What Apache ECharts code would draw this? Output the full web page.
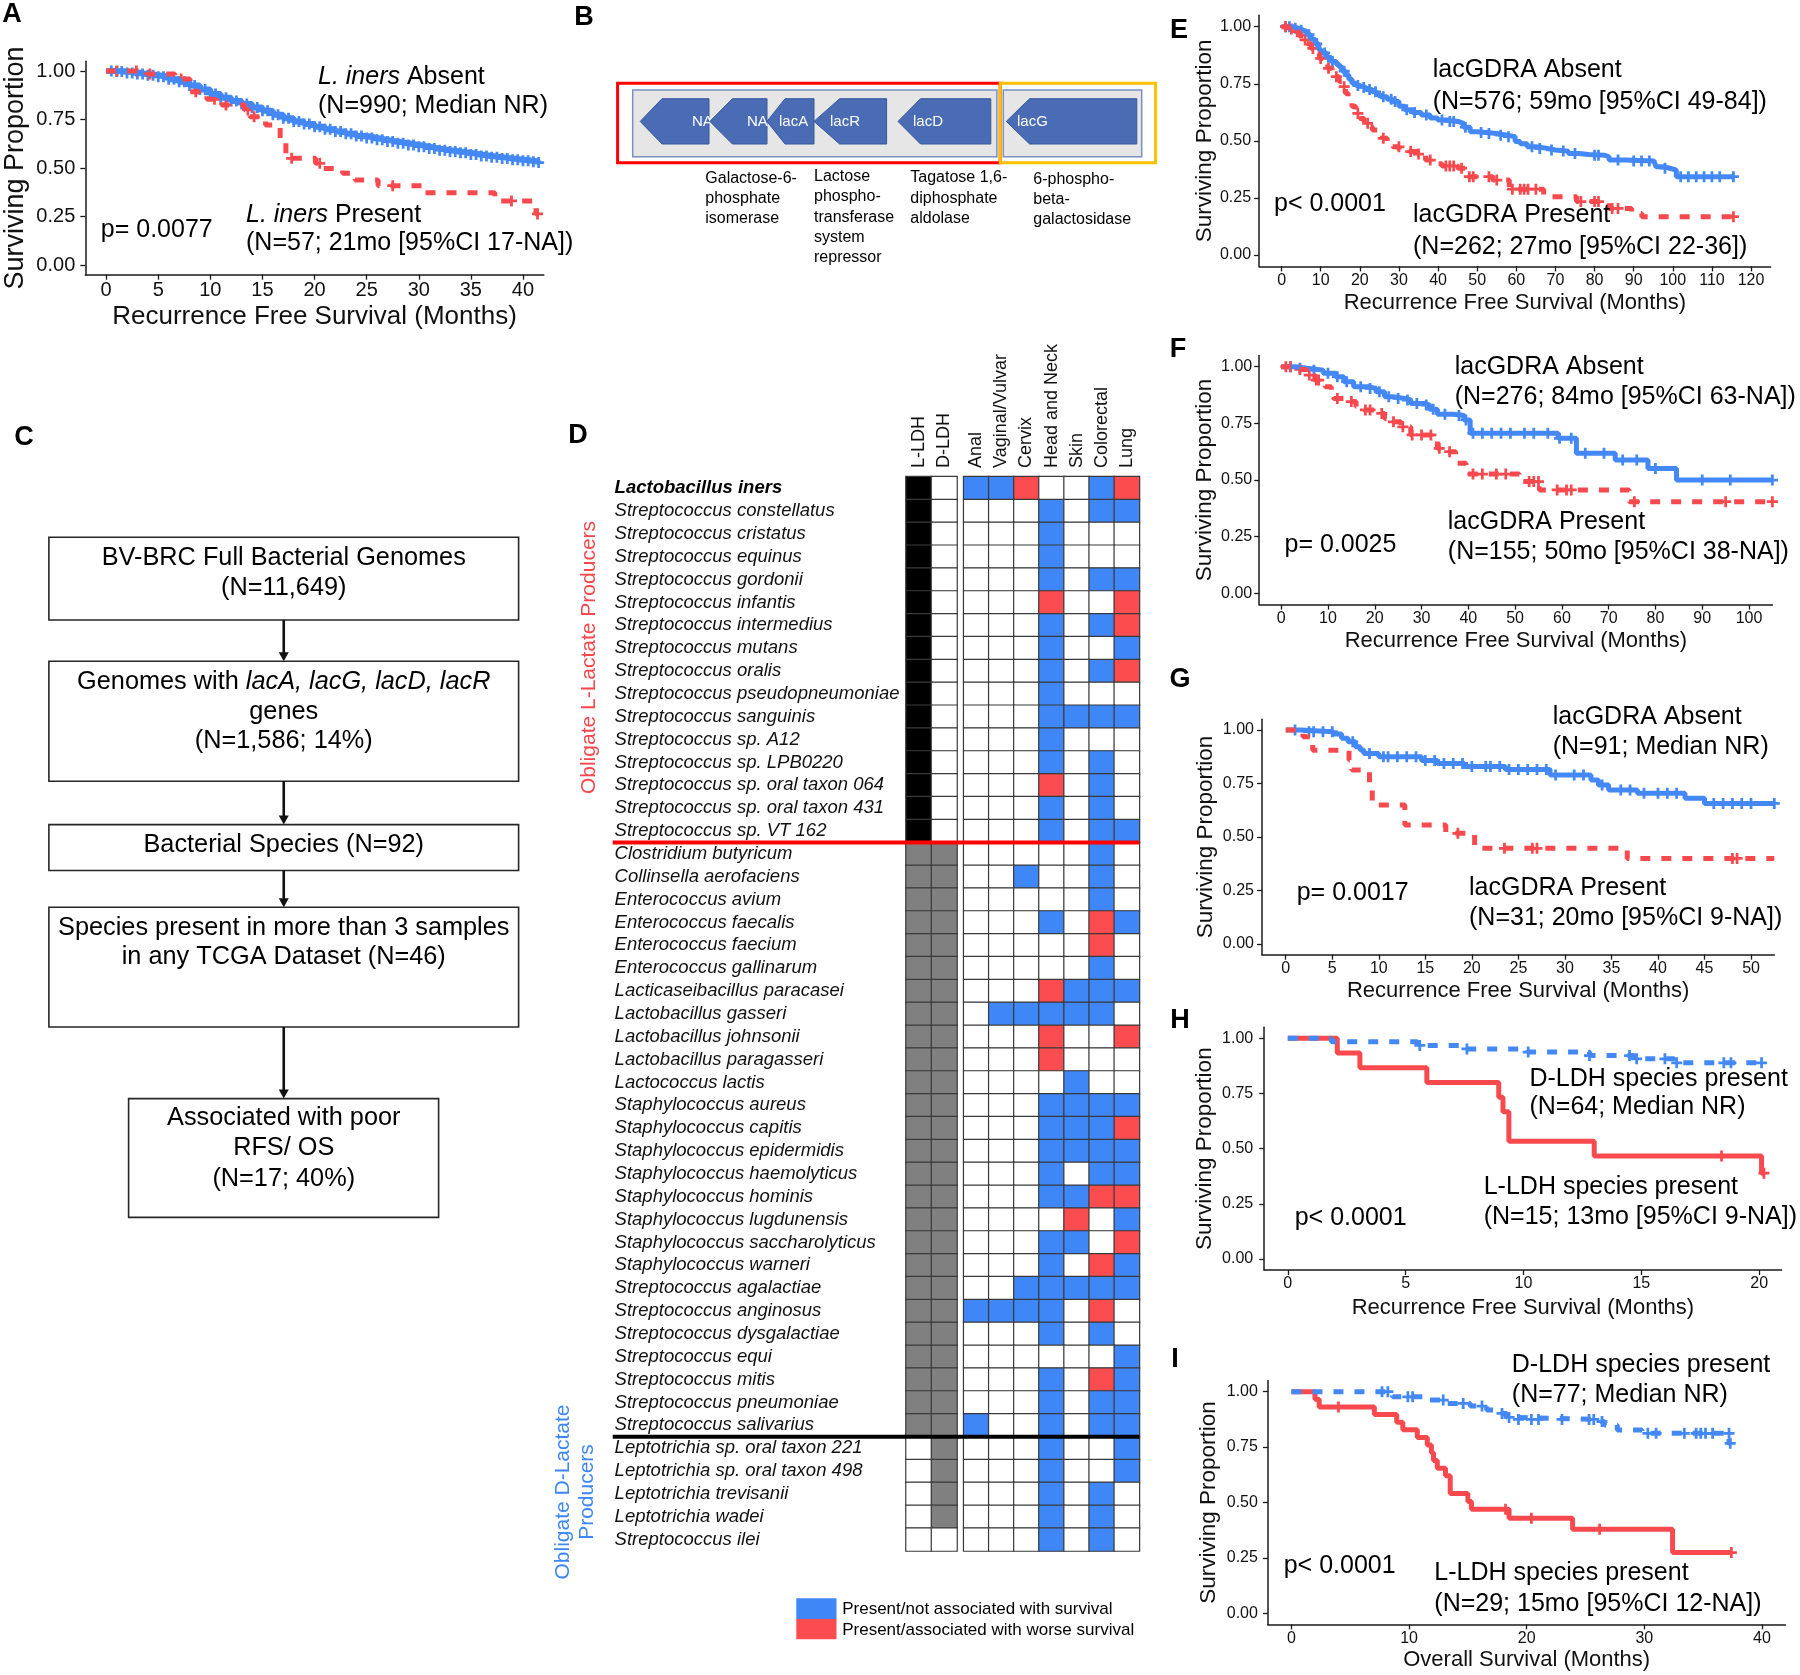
<!DOCTYPE html>
<html>
<head>
<meta charset="utf-8">
<script src="https://cdn.jsdelivr.net/npm/echarts/dist/echarts.min.js"></script>
<style>
  html, body { margin: 0; padding: 0; background: #fff; }
  #fig { width: 1800px; height: 1675px; }
</style>
</head>
<body>
<div id="fig"></div>
<script>
// ---- data ----
const survTicks = [0, 0.25, 0.5, 0.75, 1];
const aTicks = [0, 5, 10, 15, 20, 25, 30, 35, 40];
const eTicks = [0, 10, 20, 30, 40, 50, 60, 70, 80, 90, 100, 110, 120];
const fTicks = [0, 10, 20, 30, 40, 50, 60, 70, 80, 90, 100];
const gTicks = [0, 5, 10, 15, 20, 25, 30, 35, 40, 45, 50];
const hTicks = [0, 5, 10, 15, 20];
const iTicks = [0, 10, 20, 30, 40];

// A: L. iners absent / present
const aAbsent = [[0,1],[1,0.998],[2,0.99],[3,0.985],[4,0.978],[5,0.97],[6,0.958],[7,0.944],[8,0.925],[9,0.905],[10,0.882],[11,0.862],[12,0.846],[13,0.83],[14,0.812],[15,0.795],[16,0.775],[17,0.757],[18,0.74],[19,0.727],[20,0.713],[21,0.7],[22,0.688],[23,0.677],[24,0.665],[25,0.655],[26,0.645],[27,0.636],[28,0.628],[29,0.619],[30,0.61],[31,0.6],[32,0.592],[33,0.585],[34,0.578],[35,0.57],[36,0.562],[37,0.556],[38,0.549],[39,0.543],[40,0.537],[41,0.532],[41.5,0.528]];
const aAbsentCens = [[0.5,1],[1,0.998],[1.5,0.998],[2,0.99],[2.5,0.99],[3,0.985],[3.5,0.985],[4,0.978],[4.5,0.978],[5,0.97],[5.5,0.97],[6,0.958],[6.5,0.958],[7,0.944],[7.5,0.944],[8,0.925],[8.5,0.925],[9,0.905],[9.5,0.905],[10,0.882],[10.5,0.882],[11,0.862],[11.5,0.862],[12,0.846],[12.5,0.846],[13,0.83],[13.5,0.83],[14,0.812],[14.5,0.812],[15,0.795],[15.5,0.795],[16,0.775],[16.5,0.775],[17,0.757],[17.5,0.757],[18,0.74],[18.5,0.74],[19,0.727],[19.5,0.727],[20,0.713],[20.5,0.713],[21,0.7],[21.5,0.7],[22,0.688],[22.5,0.688],[23,0.677],[23.5,0.677],[24,0.665],[24.5,0.665],[25,0.655],[25.5,0.655],[26,0.645],[26.5,0.645],[27,0.636],[27.5,0.636],[28,0.628],[28.5,0.628],[29,0.619],[29.5,0.619],[30,0.61],[30.5,0.61],[31,0.6],[31.5,0.6],[32,0.592],[32.5,0.592],[33,0.585],[33.5,0.585],[34,0.578],[34.5,0.578],[35,0.57],[35.5,0.57],[36,0.562],[36.5,0.562],[37,0.556],[37.5,0.556],[38,0.549],[38.5,0.549],[39,0.543],[39.5,0.543],[40,0.537],[40.5,0.537],[41,0.532],[41.5,0.528]];
const aPresent = [[0,1],[3.9,0.985],[6.6,0.959],[8.05,0.893],[9.67,0.854],[11.1,0.825],[13.3,0.799],[13.8,0.764],[15.3,0.722],[16.7,0.644],[17.25,0.572],[17.8,0.55],[20.1,0.524],[20.7,0.498],[22.7,0.473],[23.9,0.438],[26.1,0.409],[30.6,0.373],[37.3,0.33],[41.25,0.263],[41.5,0.263]];
const aPresentCens = [[1.05,1],[2.9,1],[4.2,0.985],[7.2,0.959],[8.6,0.893],[10.4,0.854],[11.5,0.825],[13.6,0.799],[14.2,0.764],[17.8,0.55],[20.5,0.524],[27.5,0.409],[38.9,0.33],[41.4,0.263]];

// E: lacGDRA, RFS
const eAbsent = [[0,1],[3,0.993],[4.4,0.985],[5.5,0.978],[6.5,0.965],[7.5,0.945],[8.6,0.925],[9.5,0.9],[10.1,0.885],[11.5,0.865],[12.7,0.848],[14,0.835],[14.8,0.822],[15.6,0.805],[16.4,0.788],[17.2,0.77],[18,0.752],[19,0.742],[20,0.734],[21.5,0.725],[23.2,0.715],[24.3,0.703],[25.3,0.693],[27,0.682],[28.4,0.672],[30,0.652],[31.5,0.636],[33.5,0.624],[35.7,0.613],[38,0.6],[39.9,0.591],[42,0.585],[45.1,0.577],[46.5,0.56],[48.2,0.54],[50,0.537],[52.4,0.532],[55,0.525],[57.6,0.518],[59.7,0.497],[61,0.487],[62.8,0.474],[65,0.467],[68,0.46],[70,0.455],[73.3,0.445],[76,0.44],[78.5,0.437],[82.6,0.43],[83.7,0.416],[88,0.412],[95.2,0.409],[95.7,0.387],[97.5,0.38],[99.3,0.372],[100.9,0.343],[115.5,0.343]];
const eAbsentCens = [[1,1],[2,1],[3.5,0.993],[5,0.985],[7,0.965],[9,0.925],[11,0.885],[13,0.848],[16,0.805],[19.5,0.742],[21,0.734],[22.5,0.725],[24,0.715],[26,0.693],[28,0.682],[29,0.672],[32,0.636],[34,0.624],[37,0.613],[41,0.591],[43,0.585],[44,0.585],[47,0.56],[51,0.537],[53,0.532],[56,0.525],[58,0.518],[64,0.474],[66,0.467],[69,0.46],[72,0.455],[75,0.445],[80,0.437],[81,0.437],[86,0.416],[90,0.412],[92,0.412],[94,0.412],[98,0.38],[102,0.343],[104,0.343],[106,0.343],[108,0.343],[110,0.343],[112,0.343],[115.5,0.343]];
const ePresent = [[0,1],[2,0.99],[3.4,0.978],[4.5,0.96],[5.5,0.942],[6.5,0.925],[7.6,0.905],[8.7,0.882],[9.7,0.861],[10.8,0.84],[11.8,0.818],[12.9,0.8],[13.9,0.781],[14.7,0.76],[15.5,0.737],[16.3,0.708],[17,0.679],[18,0.65],[19,0.62],[20,0.598],[21.1,0.577],[22.2,0.562],[23.2,0.547],[24.5,0.528],[25.8,0.511],[27,0.49],[28.4,0.474],[30,0.462],[31.5,0.453],[34.7,0.442],[36.8,0.416],[39,0.4],[41,0.39],[45.1,0.38],[47.2,0.343],[54,0.328],[58.2,0.288],[67,0.255],[75.4,0.234],[83.7,0.204],[89.5,0.182],[92.1,0.168],[115.5,0.168]];
const ePresentCens = [[1,1],[2.5,0.99],[4,0.978],[6,0.942],[8,0.905],[10,0.861],[12,0.818],[14,0.781],[16,0.737],[19.5,0.62],[22,0.577],[26,0.511],[30,0.474],[33,0.453],[35,0.442],[38,0.416],[42,0.39],[43,0.39],[44,0.39],[46,0.38],[48,0.343],[49,0.343],[53,0.343],[55,0.328],[59,0.288],[61,0.288],[62,0.288],[63,0.288],[65,0.288],[76.5,0.234],[80,0.234],[81,0.234],[84.5,0.204],[86,0.204],[115.5,0.168]];

// F
const fAbsent = [[0,1],[3,0.993],[5.5,0.985],[9,0.971],[11.6,0.956],[13.4,0.934],[15.5,0.912],[18.6,0.904],[20.3,0.89],[22.1,0.868],[23.8,0.86],[26.4,0.853],[27.7,0.838],[30.4,0.831],[31.7,0.812],[33.4,0.79],[36.9,0.785],[39.1,0.765],[40.4,0.706],[59.2,0.684],[63.1,0.618],[71.4,0.588],[78.4,0.551],[84.5,0.5],[105,0.5]];
const fAbsentCens = [[2,1],[4,0.993],[7,0.985],[10,0.971],[12,0.956],[14,0.934],[17,0.912],[19,0.904],[21,0.89],[23,0.868],[25,0.86],[27,0.853],[29,0.838],[31,0.831],[32.5,0.812],[35,0.79],[38,0.785],[39.5,0.765],[41,0.706],[43,0.706],[45,0.706],[47,0.706],[49,0.706],[52,0.706],[54,0.706],[57,0.706],[59.5,0.684],[62,0.684],[65,0.618],[69,0.618],[73,0.588],[76,0.588],[80,0.551],[90,0.5],[96,0.5],[105,0.5]];
const fPresent = [[0,1],[2.9,0.988],[5.5,0.963],[7.2,0.941],[9.4,0.912],[10.7,0.882],[11.2,0.86],[14.2,0.846],[16,0.824],[17.7,0.809],[20.8,0.794],[22.1,0.772],[23.4,0.757],[25.6,0.735],[27.7,0.699],[32.1,0.676],[33.4,0.64],[35.2,0.625],[37.3,0.574],[39.5,0.526],[50.9,0.493],[55.2,0.456],[74.4,0.404],[105,0.404]];
const fPresentCens = [[1,1],[2,1],[4,0.988],[6,0.963],[7.5,0.941],[8,0.941],[12,0.86],[15,0.846],[18,0.809],[19,0.809],[21.5,0.794],[24,0.757],[26,0.735],[28,0.699],[30,0.699],[32,0.699],[33.8,0.64],[36,0.625],[41,0.526],[43,0.526],[46,0.526],[48,0.526],[53,0.493],[54,0.493],[55,0.493],[59,0.456],[61,0.456],[62,0.456],[75.5,0.404],[95,0.404],[105,0.404]];

// G
const gAbsent = [[0,1],[1.6,0.992],[5.1,0.981],[6,0.961],[6.7,0.945],[7.5,0.922],[8,0.907],[8.4,0.89],[10,0.875],[14.6,0.857],[16.3,0.844],[19.2,0.829],[23.6,0.816],[28.4,0.79],[32.8,0.766],[33.6,0.743],[34.7,0.72],[37.8,0.704],[42.9,0.681],[45,0.657],[52.5,0.657]];
const gAbsentCens = [[1,1],[2.5,0.992],[3,0.992],[4,0.992],[5,0.992],[7.2,0.945],[9,0.89],[10.5,0.875],[11,0.875],[12,0.875],[13,0.875],[14,0.875],[15,0.857],[16,0.857],[17,0.844],[18,0.844],[19,0.844],[20,0.829],[21.5,0.829],[22,0.829],[23,0.829],[24,0.816],[25,0.816],[26,0.816],[27,0.816],[28,0.816],[29,0.79],[31,0.79],[32,0.79],[34,0.743],[36,0.72],[37,0.72],[38.5,0.704],[40,0.704],[41,0.704],[42,0.704],[46,0.657],[47,0.657],[48,0.657],[49,0.657],[50,0.657],[52.5,0.657]];
const gPresent = [[0,1],[1.85,0.968],[2.9,0.905],[6.8,0.86],[7.1,0.813],[9,0.74],[9.3,0.65],[12.8,0.556],[17.2,0.517],[20.3,0.447],[36.7,0.4],[52.5,0.4]];
const gPresentCens = [[18.5,0.517],[23.5,0.447],[26.5,0.447],[27,0.447],[48,0.4],[48.5,0.4]];

// H: LDH species, RFS
const hL = [[0,1],[2.1,0.933],[3.06,0.867],[5.9,0.8],[8.95,0.733],[9.13,0.667],[9.38,0.533],[13,0.467],[20.1,0.389],[20.2,0.389]];
const hLCens = [[18.4,0.467],[20.2,0.389]];
const hD = [[0,1],[1.85,0.984],[5.5,0.968],[7.4,0.952],[10.2,0.938],[12.8,0.922],[14.7,0.907],[16.4,0.889],[20.2,0.889]];
const hDCens = [[5.6,0.968],[7.6,0.952],[10.2,0.938],[12.8,0.922],[14.5,0.922],[14.8,0.907],[16,0.907],[16.5,0.889],[18.5,0.889],[18.8,0.889],[20.1,0.889]];

// I: LDH species, OS
const iL = [[0,1],[2,0.966],[2.36,0.931],[7.05,0.897],[8.95,0.862],[9.47,0.828],[10.7,0.793],[11.55,0.759],[11.9,0.724],[12.08,0.69],[12.4,0.655],[13.1,0.621],[13.5,0.541],[15,0.504],[15.3,0.469],[18.5,0.429],[23.9,0.379],[32.4,0.274],[37.4,0.274]];
const iLCens = [[4,0.931],[18.2,0.469],[20.4,0.429],[26.2,0.379],[37.4,0.274]];
const iD = [[0,1],[8.6,0.977],[11.4,0.962],[13.1,0.947],[15.2,0.935],[16.6,0.917],[17.6,0.902],[18.3,0.884],[19,0.875],[26.3,0.865],[26.6,0.85],[27.7,0.827],[29.8,0.812],[37.2,0.767],[37.3,0.767]];
const iDCens = [[7.7,1],[8.2,1],[9.9,0.977],[10.3,0.977],[12.9,0.962],[14.6,0.947],[16.2,0.935],[17.9,0.902],[18.5,0.884],[19.3,0.875],[20.4,0.875],[21,0.875],[23,0.875],[25.3,0.875],[25.7,0.875],[26.4,0.865],[30.3,0.812],[31,0.812],[33.4,0.812],[34.4,0.812],[34.8,0.812],[35.2,0.812],[35.8,0.812],[37.2,0.812],[37.3,0.767]];

// D: species heatmap
const species = ['Lactobacillus iners','Streptococcus constellatus','Streptococcus cristatus','Streptococcus equinus','Streptococcus gordonii','Streptococcus infantis','Streptococcus intermedius','Streptococcus mutans','Streptococcus oralis','Streptococcus pseudopneumoniae','Streptococcus sanguinis','Streptococcus sp. A12','Streptococcus sp. LPB0220','Streptococcus sp. oral taxon 064','Streptococcus sp. oral taxon 431','Streptococcus sp. VT 162',
  'Clostridium butyricum','Collinsella aerofaciens','Enterococcus avium','Enterococcus faecalis','Enterococcus faecium','Enterococcus gallinarum','Lacticaseibacillus paracasei','Lactobacillus gasseri','Lactobacillus johnsonii','Lactobacillus paragasseri','Lactococcus lactis','Staphylococcus aureus','Staphylococcus capitis','Staphylococcus epidermidis','Staphylococcus haemolyticus','Staphylococcus hominis','Staphylococcus lugdunensis','Staphylococcus saccharolyticus','Staphylococcus warneri','Streptococcus agalactiae','Streptococcus anginosus','Streptococcus dysgalactiae','Streptococcus equi','Streptococcus mitis','Streptococcus pneumoniae','Streptococcus salivarius',
  'Leptotrichia sp. oral taxon 221','Leptotrichia sp. oral taxon 498','Leptotrichia trevisanii','Leptotrichia wadei','Streptococcus ilei'];
const ldhCols = ['L-LDH', 'D-LDH'];
const tissueCols = ['Anal', 'Vaginal/Vulvar', 'Cervix', 'Head and Neck', 'Skin', 'Colorectal', 'Lung'];
// L = L-LDH only, B = both, D = D-LDH only, N = none
const ldhType = 'LLLLLLLLLLLLLLLLBBBBBBBBBBBBBBBBBBBBBBBBBBDDDDN'.split('');
// . absent, b present/not associated, r present/associated with worse survival
const tissueStatus = ['bbr..br','...b.bb','...b...','...b...','...b.bb','...r..r','...b.br','...b..b','...b.br','...b...','...bbbb','...b...','...b.b.','...r.b.','...b.b.','...b.bb',
  '.....b.','..b..b.','.....b.','...b.rb','.....r.','.....b.','...rbbb','.bbbbb.','...r..r','...r...','....b..','...bbbb','...bbbr','...bbbb','...b.bb','...bbrr','....r.b','...bb.r','...b.rb','..bbbbb','bbbb.r.','...b.b.','......b','...b.rb','...b.bb','b..b.bb',
  '...b..b','...b..b','...b.b.','...b.b.','...b.b.'];

// ---- chart ----
const FONT = '"Liberation Sans", Arial, Helvetica, sans-serif';
const BLUE = '#4388f5';
const RED = '#f84a4e';
const PLUS = 'path://M-1.5,-6H1.5V-1.5H6V1.5H1.5V6H-1.5V1.5H-6V-1.5H-1.5Z';

const chart = echarts.init(document.getElementById('fig'));

// km panels: grid box [left, top, width, height], x range, ticks, label sizes
const panels = [
  {box: [85.3, 61.3, 458.5, 213.4], xr: [-2, 42], ticks: aTicks, tick: 20, title: 26, yGap: 56, xGap: 29, yMargin: 10, xName: 'Recurrence Free Survival (Months)'},
  {box: [1259.1, 15.3, 511.5, 251.1], xr: [-5.75, 125], ticks: eTicks, tick: 16, title: 22, yGap: 43, xGap: 26, yMargin: 8, xName: 'Recurrence Free Survival (Months)'},
  {box: [1259.2, 355.4, 513.2, 249.2], xr: [-4.7, 105], ticks: fTicks, tick: 16, title: 22, yGap: 43, xGap: 25, yMargin: 7, xName: 'Recurrence Free Survival (Months)'},
  {box: [1262, 719.3, 512.3, 235.4], xr: [-2.55, 52.5], ticks: gTicks, tick: 16, title: 22, yGap: 45, xGap: 25, yMargin: 8, xName: 'Recurrence Free Survival (Months)'},
  {box: [1264.2, 1027.3, 517.4, 242.7], xr: [-1, 20.95], ticks: hTicks, tick: 16, title: 22, yGap: 48, xGap: 27, yMargin: 11, xName: 'Recurrence Free Survival (Months)'},
  {box: [1267.9, 1380.6, 517.6, 243.8], xr: [-2, 42], ticks: iTicks, tick: 16, title: 22, yGap: 48, xGap: 25, yMargin: 10, xName: 'Overall Survival (Months)'}
];

const axisLine = {show: true, onZero: false, lineStyle: {color: '#1a1a1a', width: 1.5}};
const grids = [], xAxes = [], yAxes = [], series = [];

panels.forEach((p, i) => {
  grids.push({left: p.box[0], top: p.box[1], width: p.box[2], height: p.box[3], containLabel: false, outerBoundsMode: 'none'});
  xAxes.push({
    gridIndex: i, type: 'value', min: p.xr[0], max: p.xr[1],
    axisLine, splitLine: {show: false},
    axisTick: {show: true, length: 5, customValues: p.ticks, lineStyle: {color: '#1a1a1a', width: 1.3}},
    axisLabel: {customValues: p.ticks, fontSize: p.tick, color: '#111', fontFamily: FONT, margin: 6},
    name: p.xName, nameLocation: 'middle', nameGap: p.xGap,
    nameTextStyle: {fontSize: p.title, color: '#111', fontFamily: FONT}
  });
  yAxes.push({
    gridIndex: i, type: 'value', min: -0.05, max: 1.05,
    axisLine, splitLine: {show: false},
    axisTick: {show: true, length: 5, customValues: survTicks, lineStyle: {color: '#1a1a1a', width: 1.3}},
    axisLabel: {customValues: survTicks, fontSize: p.tick, color: '#111', fontFamily: FONT, margin: p.yMargin,
      formatter: v => v.toFixed(2)},
    name: 'Surviving Proportion', nameLocation: 'middle', nameGap: p.yGap,
    nameTextStyle: {fontSize: p.title + (i === 0 ? 1 : 0.5), color: '#111', fontFamily: FONT}
  });
});

function km(gi, steps, cens, color, dashed, width) {
  series.push({
    type: 'line', xAxisIndex: gi, yAxisIndex: gi, data: steps, step: 'end',
    symbol: 'none', showSymbol: false, silent: true, animation: false,
    lineStyle: {color, width: width || 5, type: dashed ? [10, 11] : 'solid', cap: 'butt'}
  });
  series.push({
    type: 'scatter', xAxisIndex: gi, yAxisIndex: gi, data: cens, symbol: PLUS,
    symbolSize: 11, silent: true, animation: false, itemStyle: {color, opacity: 1}
  });
}

km(0, aAbsent, aAbsentCens, BLUE, false, 6);
km(0, aPresent, aPresentCens, RED, true);
km(1, eAbsent, eAbsentCens, BLUE, false);
km(1, ePresent, ePresentCens, RED, true);
km(2, fAbsent, fAbsentCens, BLUE, false);
km(2, fPresent, fPresentCens, RED, true);
km(3, gAbsent, gAbsentCens, BLUE, false);
km(3, gPresent, gPresentCens, RED, true);
km(4, hL, hLCens, RED, false);
km(4, hD, hDCens, BLUE, true);
km(5, iL, iLCens, RED, false);
km(5, iD, iDCens, BLUE, true);

// heatmap grids (6: LDH, 7: tissue)
const ldhData = [], tissueData = [];
species.forEach((s, r) => {
  const t = ldhType[r];
  ldhData.push([0, r, t === 'L' ? 3 : (t === 'B' ? 4 : 0)]);
  ldhData.push([1, r, (t === 'B' || t === 'D') ? 4 : 0]);
  tissueStatus[r].split('').forEach((c, k) => {
    tissueData.push([k, r, c === 'b' ? 1 : (c === 'r' ? 2 : 0)]);
  });
});

grids.push({left: 906, top: 476.7, width: 51, height: 1074.3, containLabel: false, outerBoundsMode: 'none'});
grids.push({left: 963.7, top: 476.7, width: 175.7, height: 1074.3, containLabel: false, outerBoundsMode: 'none'});

const headerAxis = (gi, data) => ({
  gridIndex: gi, type: 'category', data, position: 'top',
  axisLine: {show: false}, axisTick: {show: false}, splitLine: {show: false},
  axisLabel: {show: false}
});
xAxes.push(headerAxis(6, ldhCols));
xAxes.push(headerAxis(7, tissueCols));
yAxes.push({
  gridIndex: 6, type: 'category', data: species, inverse: true,
  axisLine: {show: false}, axisTick: {show: false}, splitLine: {show: false},
  axisLabel: {
    interval: 0, align: 'left', margin: 291.4, fontSize: 18.5, color: '#111',
    fontFamily: FONT, fontStyle: 'italic',
    formatter: (v, i) => i === 0 ? '{b|' + v + '}' : v,
    rich: {b: {fontWeight: 'bold', fontStyle: 'italic', fontSize: 18.5, fontFamily: FONT, color: '#000'}}
  }
});
yAxes.push({
  gridIndex: 7, type: 'category', data: species, inverse: true,
  axisLine: {show: false}, axisTick: {show: false}, splitLine: {show: false},
  axisLabel: {show: false}
});

const heatStart = series.length;
series.push({
  type: 'heatmap', xAxisIndex: 6, yAxisIndex: 6, data: ldhData, silent: true, animation: false,
  itemStyle: {borderColor: '#3a3a3a', borderWidth: 1.2}
});
series.push({
  type: 'heatmap', xAxisIndex: 7, yAxisIndex: 7, data: tissueData, silent: true, animation: false,
  itemStyle: {borderColor: '#3a3a3a', borderWidth: 1.2}
});

chart.setOption({
  animation: false,
  backgroundColor: '#fff',
  textStyle: {fontFamily: FONT},
  grid: grids,
  xAxis: xAxes,
  yAxis: yAxes,
  visualMap: {
    type: 'piecewise', show: false, dimension: 2, seriesIndex: [heatStart, heatStart + 1],
    pieces: [
      {value: 0, color: '#ffffff'},
      {value: 1, color: '#3f86f6'},
      {value: 2, color: '#fb4c4f'},
      {value: 3, color: '#000000'},
      {value: 4, color: '#808080'}
    ]
  },
  series
});

// ---- annotations, diagrams ----
const g = [];
function txt(x, y, text, size, o = {}) {
  g.push({
    type: 'text', x, y, rotation: o.rot || 0, z: 50, silent: true,
    style: {
      text, fill: o.color || '#000', fontSize: size, fontFamily: FONT,
      fontWeight: o.weight || 'normal', fontStyle: o.fstyle || 'normal',
      textAlign: o.align || 'left', textVerticalAlign: o.valign || 'middle',
      align: o.align || 'left', verticalAlign: o.valign || 'middle',
      lineHeight: o.lh || Math.round(size * 1.2), rich: o.rich || undefined
    }
  });
}
function rect(x, y, w, h, fill, stroke, lw, z) {
  g.push({type: 'rect', z: z || 10, silent: true, shape: {x, y, width: w, height: h},
    style: {fill: fill || 'none', stroke: stroke || 'none', lineWidth: lw || 0}});
}
function line(x1, y1, x2, y2, color, lw, z) {
  g.push({type: 'line', z: z || 10, silent: true, shape: {x1, y1, x2, y2}, style: {stroke: color, lineWidth: lw}});
}
function poly(points, fill, stroke, lw, z) {
  g.push({type: 'polygon', z: z || 10, silent: true, shape: {points},
    style: {fill, stroke: stroke || 'none', lineWidth: lw || 0}});
}

// panel letters
[['A', 12, 15], ['B', 584, 18], ['C', 24, 438], ['D', 578, 436], ['E', 1179, 31], ['F', 1178, 350],
 ['G', 1180, 680], ['H', 1180, 1021], ['I', 1175, 1360]].forEach(([t, x, y]) =>
  txt(x, y, t, 27, {weight: 'bold', align: 'center'}));

// A annotations
const itl = {i: {fontStyle: 'italic', fontSize: 25, fontFamily: FONT, fill: '#000'}};
txt(318, 77, '{i|L. iners} Absent', 25, {rich: itl});
txt(318, 106, '(N=990; Median NR)', 25);
txt(246, 215, '{i|L. iners} Present', 25, {rich: itl});
txt(246, 243.5, '(N=57; 21mo [95%CI 17-NA])', 25);
txt(100.8, 230, 'p= 0.0077', 25);
// E
txt(1432.7, 70, 'lacGDRA Absent', 25);
txt(1432.7, 101.7, '(N=576; 59mo [95%CI 49-84])', 25);
txt(1413, 215, 'lacGDRA Present', 25);
txt(1413, 246.7, '(N=262; 27mo [95%CI 22-36])', 25);
txt(1274, 204, 'p< 0.0001', 25);
// F
txt(1454.7, 366.7, 'lacGDRA Absent', 25);
txt(1454.7, 396.7, '(N=276; 84mo [95%CI 63-NA])', 25);
txt(1447.8, 521.7, 'lacGDRA Present', 25);
txt(1447.8, 551.7, '(N=155; 50mo [95%CI 38-NA])', 25);
txt(1284.5, 545, 'p= 0.0025', 25);
// G
txt(1552.7, 716.7, 'lacGDRA Absent', 25);
txt(1552.7, 747.3, '(N=91; Median NR)', 25);
txt(1469, 887.7, 'lacGDRA Present', 25);
txt(1469, 918.3, '(N=31; 20mo [95%CI 9-NA])', 25);
txt(1296.7, 893.3, 'p= 0.0017', 25);
// H
txt(1529.4, 1079, 'D-LDH species present', 25);
txt(1529.4, 1107.3, '(N=64; Median NR)', 25);
txt(1483.7, 1186.7, 'L-LDH species present', 25);
txt(1483.7, 1216.7, '(N=15; 13mo [95%CI 9-NA])', 25);
txt(1294.7, 1218.3, 'p< 0.0001', 25);
// I
txt(1511.8, 1365, 'D-LDH species present', 25);
txt(1511.8, 1395, '(N=77; Median NR)', 25);
txt(1434.3, 1573.3, 'L-LDH species present', 25);
txt(1434.3, 1604, '(N=29; 15mo [95%CI 12-NA])', 25);
txt(1283.7, 1565.7, 'p< 0.0001', 25);

// B: operon diagram
rect(632.7, 90, 364.2, 66.7, '#e7e6e6', '#7b8fc0', 1.5, 5);
rect(1003.3, 90, 138.4, 66.7, '#e7e6e6', '#7b8fc0', 1.5, 5);
rect(617.6, 83.3, 382.6, 79.4, 'none', '#ff0000', 3, 20);
rect(1000.2, 83.3, 155.4, 79.4, 'none', '#ffc000', 3, 20);
const genes = [
  ['NA', 640.2, 662, 709, 692], ['NA', 709.8, 732.4, 767, 747], ['lacA', 767, 785, 814, 779],
  ['lacR', 814, 839.6, 886.6, 830], ['lacD', 898, 920.5, 990.8, 913], ['lacG', 1006.3, 1029.6, 1136.8, 1017]
];
genes.forEach(([name, tip, sh, right, lx], k) => {
  poly([[tip, 121.4], [sh, 98.7], [right, 98.7], [right, 144], [sh, 144]], '#4a6cb4', '#36589c', 1, 11 + k * 2);
  g.push({type: 'text', x: lx, y: 121.4, z: 12 + k * 2, silent: true,
    style: {text: name, fill: '#fff', fontSize: 15, fontFamily: FONT, textAlign: 'left', textVerticalAlign: 'middle', align: 'left', verticalAlign: 'middle'}});
});
txt(705.3, 168, 'Galactose-6-\nphosphate\nisomerase', 16, {valign: 'top', lh: 20.4});
txt(814, 166.5, 'Lactose\nphospho-\ntransferase\nsystem\nrepressor', 16, {valign: 'top', lh: 20.3});
txt(910.3, 167.5, 'Tagatose 1,6-\ndiphosphate\naldolase', 16, {valign: 'top', lh: 20.4});
txt(1033.3, 170, '6-phospho-\nbeta-\ngalactosidase', 16, {valign: 'top', lh: 20});

// C: flow chart
const boxes = [
  [48.9, 537.3, 469.7, 82.7], [48.9, 661.3, 469.7, 119.9], [48.9, 824.6, 469.7, 45.9],
  [48.9, 907.2, 469.7, 119.8], [128.6, 1098.6, 310, 118.8]
];
boxes.forEach(b => rect(b[0], b[1], b[2], b[3], '#fff', '#262626', 1.6, 10));
const cx = 283.75;
[[620, 661.3], [781.2, 824.6], [870.5, 907.2], [1027, 1098.6]].forEach(([y1, y2]) => {
  line(cx, y1, cx, y2 - 8, '#111', 2.6, 11);
  poly([[cx - 5, y2 - 9], [cx + 5, y2 - 9], [cx, y2]], '#111', null, 0, 11);
});
const CF = 25.3;
const cText = {n: {fontSize: CF, fontFamily: FONT, fill: '#000'}, i: {fontSize: CF, fontFamily: FONT, fontStyle: 'italic', fill: '#000'}};
txt(cx, 557.8, 'BV-BRC Full Bacterial Genomes', CF, {align: 'center'});
txt(cx, 588.4, '(N=11,649)', CF, {align: 'center'});
txt(cx, 681.7, '{n|Genomes with }{i|lacA, lacG, lacD, lacR}', CF, {align: 'center', rich: cText});
txt(cx, 712.3, 'genes', CF, {align: 'center'});
txt(cx, 741.4, '(N=1,586; 14%)', CF, {align: 'center'});
txt(cx, 845, 'Bacterial Species (N=92)', CF, {align: 'center'});
txt(cx, 927.6, 'Species present in more than 3 samples', CF, {align: 'center'});
txt(cx, 957.2, 'in any TCGA Dataset (N=46)', CF, {align: 'center'});
txt(cx, 1118, 'Associated with poor', CF, {align: 'center'});
txt(cx, 1148, 'RFS/ OS', CF, {align: 'center'});
txt(cx, 1178.7, '(N=17; 40%)', CF, {align: 'center'});

// D: column headers, placed through the category scale
ldhCols.forEach(c => {
  const x = chart.convertToPixel({gridIndex: 6}, [c, species[0]])[0];
  txt(x, 468, c, 18, {rot: Math.PI / 2, align: 'left', color: '#111'});
});
tissueCols.forEach(c => {
  const x = chart.convertToPixel({gridIndex: 7}, [c, species[0]])[0];
  txt(x, 468, c, 18, {rot: Math.PI / 2, align: 'left', color: '#111'});
});

// D: group labels and legend
txt(589, 657.5, 'Obligate L-Lactate Producers', 21, {rot: Math.PI / 2, align: 'center', color: '#f5484c'});
txt(575, 1492, 'Obligate D-Lactate\nProducers', 21, {rot: Math.PI / 2, align: 'center', color: '#3d87f5', lh: 24});
rect(796.3, 1598.3, 40.2, 20.7, '#3f86f6', null, 0, 10);
rect(796.3, 1619, 40.2, 20.3, '#fb4c4f', null, 0, 10);
txt(842.2, 1609.5, 'Present/not associated with survival', 17);
txt(842.2, 1630, 'Present/associated with worse survival', 17);

// D: separators between producer groups, placed through the category scale
const rowY = r => chart.convertToPixel({gridIndex: 6}, [ldhCols[0], species[r]])[1];
const colX = c => chart.convertToPixel({gridIndex: 7}, [tissueCols[c], species[0]])[0];
const rightX = colX(6) + (colX(6) - colX(5)) / 2;
const sepL = (rowY(15) + rowY(16)) / 2;
const sepD = (rowY(41) + rowY(42)) / 2;
line(612.7, sepL, rightX, sepL, '#ff0000', 4, 30);
line(612.7, sepD, rightX, sepD, '#000000', 4, 30);

chart.setOption({graphic: {elements: g}});
</script>
</body>
</html>
